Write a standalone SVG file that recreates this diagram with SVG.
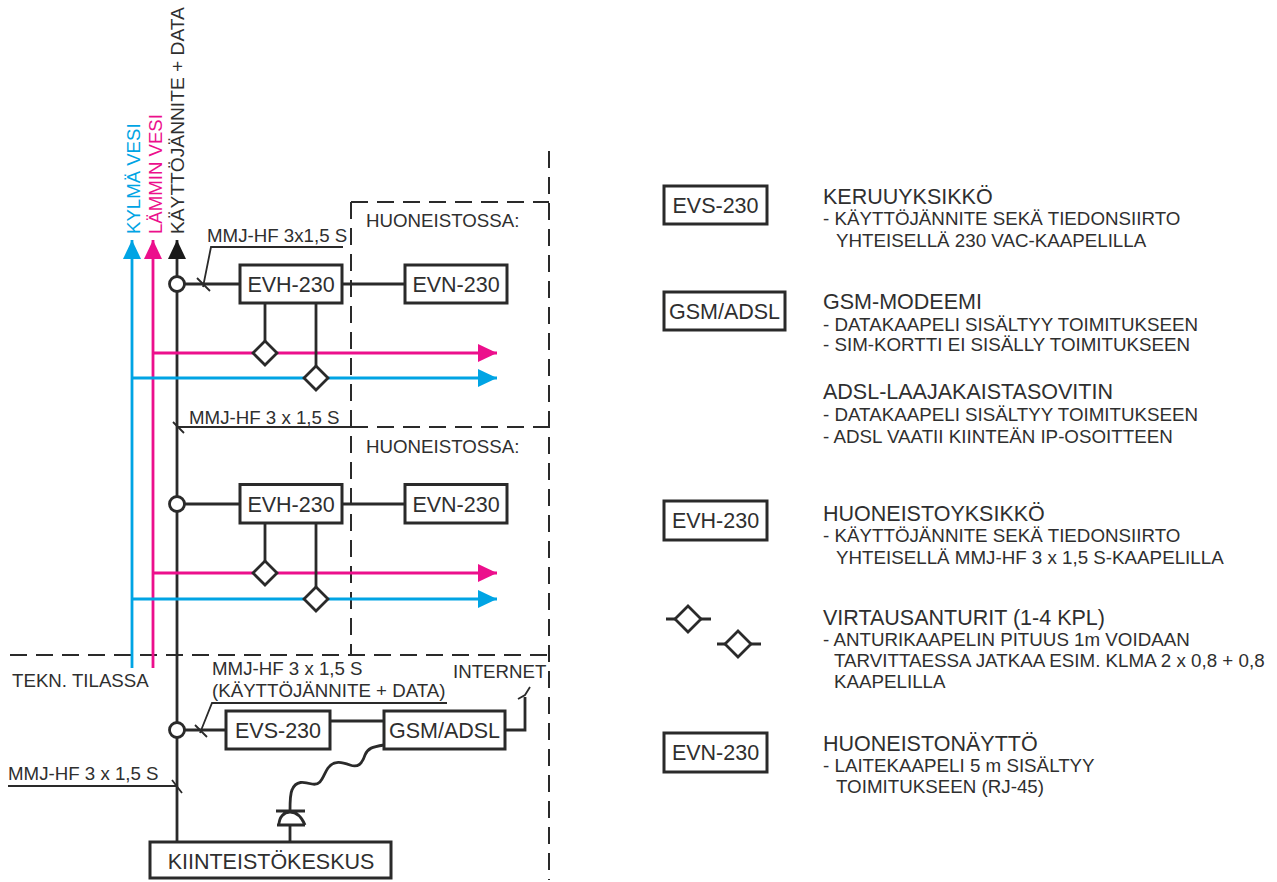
<svg xmlns="http://www.w3.org/2000/svg" width="1277" height="882" viewBox="0 0 1277 882">
<style>
text{font-family:"Liberation Sans",Arial,sans-serif;fill:#2f2f2f;font-size:18.700px}
.b{fill:#fff;stroke:#2a2a2a;stroke-width:3}
.l{fill:none;stroke:#2a2a2a;stroke-width:2.800}
.t{fill:none;stroke:#2a2a2a;stroke-width:1.800}
.d{fill:none;stroke:#2a2a2a;stroke-width:2;stroke-dasharray:17 9}
.c{fill:none;stroke:#00a4e4;stroke-width:2.800}
.m{fill:none;stroke:#ec0f8c;stroke-width:2.800}
.n{font-size:21.500px;text-anchor:middle}
.h{font-size:21.500px}
.p{font-size:18.750px}
.q{fill:#fff;stroke:#2a2a2a;stroke-width:2.800}
</style>
<defs>
<marker id="ac" markerUnits="userSpaceOnUse" markerWidth="20" markerHeight="18" refX="19" refY="9" orient="auto"><path d="M0 0L19 9L0 18z" fill="#00a4e4"/></marker>
<marker id="am" markerUnits="userSpaceOnUse" markerWidth="20" markerHeight="18" refX="19" refY="9" orient="auto"><path d="M0 0L19 9L0 18z" fill="#ec0f8c"/></marker>
<marker id="ak" markerUnits="userSpaceOnUse" markerWidth="20" markerHeight="18" refX="19" refY="9" orient="auto"><path d="M0 0L19 9L0 18z" fill="#1a1a1a"/></marker>
</defs>
<rect width="1277" height="882" fill="#fff"/>
<g id="connectors">
<path class="d" d="M549 151V880"/>
<path class="d" d="M351 202H549M351 202V655M351 427H549M10 655H549"/>
<path class="c" marker-end="url(#ac)" d="M132 668V240"/>
<path class="m" marker-end="url(#am)" d="M153 668V240"/>
<path class="l" marker-end="url(#ak)" d="M177 842V240"/>
<path class="m" marker-end="url(#am)" d="M153 353H497"/>
<path class="c" marker-end="url(#ac)" d="M132 378H497"/>
<path class="m" marker-end="url(#am)" d="M153 573H497"/>
<path class="c" marker-end="url(#ac)" d="M132 599H497"/>
<path class="l" d="M177 284H405M265 303V341M316 303V366M177 504H405M265 523V561M316 523V587M177 730H226M330 721H384M505 730H525V697M290 826V842"/>
<path class="l" d="M384 745C372 747 368 748 365 755C362 764 358 768 350 765C342 762 334 760 328 768C323 775 322 786 312 784C304 782 296 780 292 790C290 794 290 800 290 811"/>
<path class="l" d="M276 811H305M277 825H305M279 825C279 817 284 812 290 812C297 812 302 818 305 825"/>
<path class="t" d="M343 247H211L203 287M197 278L210 291"/>
<path class="t" d="M177 427H351M173 422L184 433"/>
<path class="t" d="M447 703H212L200 733M195 725L207 737"/>
<path class="t" d="M8 786H177M172 780L182 793"/>
<path class="t" d="M518 699L525 695L530 687"/>
</g>
<g id="junctions">
<circle class="q" cx="177" cy="284" r="7.500"/>
<circle class="q" cx="177" cy="504" r="7.500"/>
<circle class="q" cx="177" cy="730" r="7.500"/>
</g>
<g id="sensors">
<path class="q" d="M265 341L277 353L265 365L253 353z"/>
<path class="q" d="M316 366L328 378L316 390L304 378z"/>
<path class="q" d="M265 561L277 573L265 585L253 573z"/>
<path class="q" d="M316 587L328 599L316 611L304 599z"/>
</g>
<g id="evh1"><rect class="b" x="240" y="265" width="102" height="38"/><text class="n" x="291" y="292">EVH-230</text></g>
<g id="evn1"><rect class="b" x="405" y="265" width="102" height="38"/><text class="n" x="456" y="292">EVN-230</text></g>
<g id="evh2"><rect class="b" x="240" y="484.500" width="102" height="38.500"/><text class="n" x="291" y="512">EVH-230</text></g>
<g id="evn2"><rect class="b" x="405" y="484.500" width="102" height="38.500"/><text class="n" x="456" y="512">EVN-230</text></g>
<g id="evs"><rect class="b" x="226" y="711" width="104" height="38"/><text class="n" x="278" y="738">EVS-230</text></g>
<g id="gsm"><rect class="b" x="384" y="711" width="121" height="38"/><text class="n" x="444.500" y="738">GSM/ADSL</text></g>
<g id="kiinteistokeskus"><rect class="b" x="150" y="842" width="241" height="36"/><text class="n" x="271" y="869">KIINTEISTÖKESKUS</text></g>
<g id="riser-labels">
<text transform="translate(140,234) rotate(-90)" style="fill:#00a4e4;font-size:18.600px">KYLMÄ VESI</text>
<text transform="translate(161.500,234) rotate(-90)" style="fill:#ec0f8c;font-size:18.600px">LÄMMIN VESI</text>
<text transform="translate(183.500,234) rotate(-90)" style="font-size:19.200px">KÄYTTÖJÄNNITE + DATA</text>
</g>
<g id="labels">
<text x="207" y="242">MMJ-HF 3x1,5 S</text>
<text x="366" y="227">HUONEISTOSSA:</text>
<text x="189" y="424">MMJ-HF 3 x 1,5 S</text>
<text x="366" y="453">HUONEISTOSSA:</text>
<text x="12" y="687">TEKN. TILASSA</text>
<text x="212" y="675">MMJ-HF 3 x 1,5 S</text>
<text x="212" y="697">(KÄYTTÖJÄNNITE + DATA)</text>
<text x="453" y="678">INTERNET</text>
<text x="8" y="780">MMJ-HF 3 x 1,5 S</text>
</g>
<g id="legend-evs"><rect class="b" x="664" y="186" width="103" height="38"/><text class="n" x="715.500" y="213">EVS-230</text>
<text class="h" x="823" y="203.500">KERUUYKSIKKÖ</text><text class="p" x="823" y="224.500">- KÄYTTÖJÄNNITE SEKÄ TIEDONSIIRTO</text><text class="p" x="836" y="247">YHTEISELLÄ 230 VAC-KAAPELILLA</text></g>
<g id="legend-gsm"><rect class="b" x="664" y="292" width="121" height="38"/><text class="n" x="724.500" y="319">GSM/ADSL</text>
<text class="h" x="823" y="309">GSM-MODEEMI</text><text class="p" x="823" y="330.500">- DATAKAAPELI SISÄLTYY TOIMITUKSEEN</text><text class="p" x="823" y="351">- SIM-KORTTI EI SISÄLLY TOIMITUKSEEN</text></g>
<g id="legend-adsl"><text class="h" x="823" y="399">ADSL-LAAJAKAISTASOVITIN</text><text class="p" x="823" y="420.500">- DATAKAAPELI SISÄLTYY TOIMITUKSEEN</text><text class="p" x="823" y="442.500">- ADSL VAATII KIINTEÄN IP-OSOITTEEN</text></g>
<g id="legend-evh"><rect class="b" x="664" y="501" width="103" height="39"/><text class="n" x="715.500" y="528">EVH-230</text>
<text class="h" x="823" y="520.500">HUONEISTOYKSIKKÖ</text><text class="p" x="823" y="542">- KÄYTTÖJÄNNITE SEKÄ TIEDONSIIRTO</text><text class="p" x="836" y="564">YHTEISELLÄ MMJ-HF 3 x 1,5 S-KAAPELILLA</text></g>
<g id="legend-sensors">
<path class="l" d="M666 619H711M717 644H761"/>
<path class="q" d="M688 606L701 619L688 632L675 619z"/>
<path class="q" d="M738 631L751 644L738 657L725 644z"/>
<text class="h" x="823" y="625">VIRTAUSANTURIT (1-4 KPL)</text><text class="p" x="823" y="646">- ANTURIKAAPELIN PITUUS 1m VOIDAAN</text><text class="p" x="834" y="667">TARVITTAESSA JATKAA ESIM. KLMA 2 x 0,8 + 0,8</text><text class="p" x="834" y="688">KAAPELILLA</text></g>
<g id="legend-evn"><rect class="b" x="664" y="733" width="103" height="39"/><text class="n" x="715.500" y="760">EVN-230</text>
<text class="h" x="823" y="750.500">HUONEISTONÄYTTÖ</text><text class="p" x="823" y="772">- LAITEKAAPELI 5 m SISÄLTYY</text><text class="p" x="836" y="792.500">TOIMITUKSEEN (RJ-45)</text></g>
</svg>
